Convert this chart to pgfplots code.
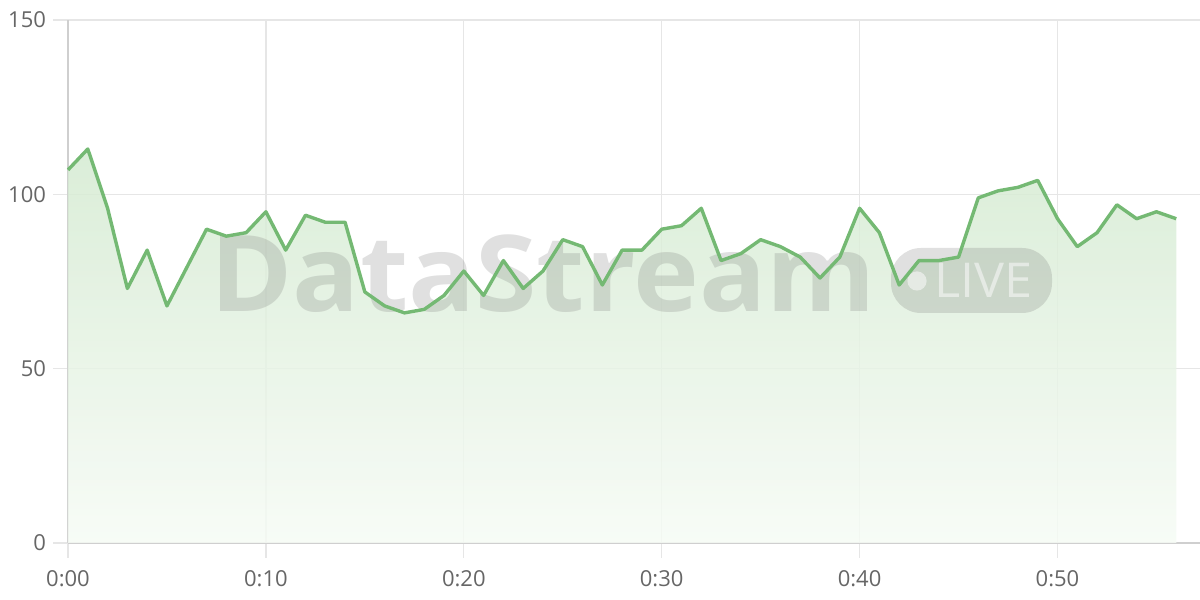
\documentclass[border=0pt]{standalone}
\usepackage{fontspec}
\setmainfont{Open Sans}
\usepackage{pgfplots}
\pgfplotsset{compat=1.18}
\definecolor{linegreen}{HTML}{74B973}
\definecolor{filltop}{HTML}{D4EAD1}
\definecolor{fillbot}{HTML}{F6FBF5}
\definecolor{gridgray}{HTML}{E6E6E6}
\definecolor{axisgray}{HTML}{CFCFCF}
\definecolor{labelgray}{HTML}{666666}
\definecolor{markgray}{HTML}{707070}

\pgfplotstableread{
t v
0 107
1 113
2 96
3 73
4 84
5 68
6 79
7 90
8 88
9 89
10 95
11 84
12 94
13 92
14 92
15 72
16 68
17 66
18 67
19 71
20 78
21 71
22 81
23 73
24 78
25 87
26 85
27 74
28 84
29 84
30 90
31 91
32 96
33 81
34 83
35 87
36 85
37 82
38 76
39 82
40 96
41 89
42 74
43 81
44 81
45 82
46 99
47 101
48 102
49 104
50 93
51 85
52 89
53 97
54 93
55 95
56 93
}\datatable

\begin{document}
\begin{tikzpicture}[x=1pt,y=1pt]
\begin{axis}[
    at={(34pt,28.5pt)}, anchor=south west,
    scale only axis,
    width=566pt, height=261.5pt,
    xmin=0, xmax=57.2,
    ymin=0, ymax=150,
    axis x line*=bottom, axis y line*=left,
    axis line style={draw=axisgray, line width=0.7pt, -},
    xtick={0,10,20,30,40,50},
    xticklabels={0:00,0:10,0:20,0:30,0:40,0:50},
    ytick={0,50,100,150},
    tick align=outside,
    major tick length=7.5pt,
    tick style={draw=gridgray, line width=0.6pt},
    grid=major,
    grid style={draw=gridgray, line width=0.6pt},
    tick label style={font=\fontsize{11}{13}\selectfont, text=labelgray},
    xticklabel style={yshift=-2.5pt},
    /pgf/number format/assume math mode=true,
    clip=false,
]
\addplot[draw=none, top color=filltop, bottom color=fillbot, fill opacity=0.85]
    table[x=t, y=v] {\datatable} \closedcycle;
% watermark, placed in pt from the axis origin
\node[font=\fontsize{53}{53}\selectfont\bfseries, text=markgray, opacity=0.22,
      anchor=base west, inner sep=0pt, xscale=1.05]
      at ([shift={(71pt,115.5pt)}]rel axis cs:0,0) {DataStream};
\fill[markgray, opacity=0.22, rounded corners=15pt]
      ([shift={(411.5pt,115pt)}]rel axis cs:0,0) rectangle ([shift={(492pt,147.5pt)}]rel axis cs:0,0);
\fill[white, opacity=0.5] ([shift={(424.5pt,131pt)}]rel axis cs:0,0) circle (4.8pt);
\node[font=\fontsize{24}{24}\selectfont, text=white, opacity=0.5,
      anchor=base west, inner sep=0pt, xscale=1.05]
      at ([shift={(433pt,122.5pt)}]rel axis cs:0,0) {LIVE};
\addplot[draw=linegreen, line width=1.7pt, line join=round, mark=none]
    table[x=t, y=v] {\datatable};
\end{axis}
\pgfresetboundingbox
\useasboundingbox (0,0) rectangle (600,300);
\end{tikzpicture}
\end{document}
